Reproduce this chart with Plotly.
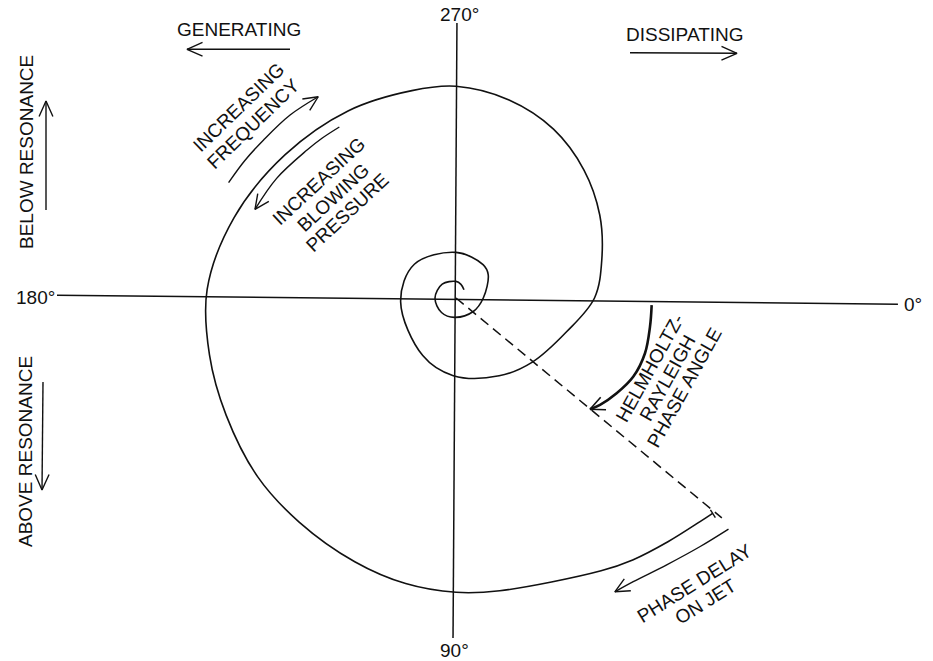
import numpy as np
import plotly.graph_objects as go

# ---------------- data (screen angles: 0° right, 90° down, clockwise) ----------------
CENTER_X, CENTER_Y = 456.0, 298.0

# spiral: unwrapped screen angle (deg) and radius (px)
SPIRAL_ANGLE = [314, 290, 270, 225, 180, 135, 94, 38, 0, -36, -51, -90, -141, -184,
                -240, -268, -299, -320, -343, -360, -375, -390, -405, -420, -435,
                -450, -462, -480, -500, -520, -538, -553, -567, -582, -595, -609,
                -620, -630, -638.5, -658, -664, -671, -677.5, -680]
SPIRAL_RADIUS = [11.5, 14.5, 16.6, 19.5, 21, 20.5, 19.4, 21.9, 27.3, 39.8, 43, 45.6, 53.6, 55.5,
                 66.5, 77.7, 89, 99.7, 115.6, 138.5, 151, 166, 181, 195, 205,
                 211.7, 212, 216, 223, 236, 249, 253, 258, 267, 273.5, 282.5,
                 290, 294.3, 296, 309, 316, 323, 331, 335]

# reference axes (angle, radius of the two ends)
H_AXIS_ANGLE = [180.4, 0.8]
H_AXIS_R = [399, 442]
V_AXIS_ANGLE = [270.2, 90.5]
V_AXIS_R = [275, 340]

AXIS_LABELS = ["0°", "90°", "180°", "270°"]
AXIS_LABEL_ANGLE = [0.8, 90.3, 180.1, 270.8]
AXIS_LABEL_R = [457, 352, 421, 284]

# dashed phase line
DASH_ANGLE = [39.6, 39.6]
DASH_R = [0, 345]

# curved arrows (angle, radius)
FREQ_ARC_ANGLE = [206.9, 213.0, 219.4, 227.8, 235.6]
FREQ_ARC_R = [255, 252, 249, 247, 243.9]
BLOW_ARC_ANGLE = [235.7, 230.0, 224.7, 213.7, 203.8]
BLOW_ARC_R = [207, 208.5, 210, 215.6, 219.7]
HR_ARC_ANGLE = [2.1, 8.4, 16.3, 23.9, 30.7, 36.6, 39.7]
HR_ARC_R = [195.8, 196.1, 196.9, 194, 186.8, 179.4, 174.2]
JET_ARC_ANGLE = [40.3, 45.5, 51.7, 58, 61.6]
JET_ARC_R = [357.3, 348.4, 340, 334.5, 334]

# straight arrows (start -> tip)
GEN_ARROW_X = [290, 187]
GEN_ARROW_Y = [49.3, 49.3]
DIS_ARROW_X = [630, 737]
DIS_ARROW_Y = [52.7, 53.3]
BELOW_ARROW_X = [46, 46]
BELOW_ARROW_Y = [210, 101]
ABOVE_ARROW_X = [43, 42]
ABOVE_ARROW_Y = [382, 490]

FONT = "Liberation Sans, Arial, Helvetica, sans-serif"
INK = "#111111"
FS = 19


def polar_xy(angles, radii):
    a = np.radians(np.asarray(angles, dtype=float))
    r = np.asarray(radii, dtype=float)
    return CENTER_X + r * np.cos(a), CENTER_Y + r * np.sin(a)


fig = go.Figure()


def add_line(x, y, width=1.5, dash=None, spline=False):
    fig.add_trace(go.Scatter(
        x=list(x), y=list(y), mode="lines", hoverinfo="skip",
        line=dict(color=INK, width=width, dash=dash,
                  shape="spline" if spline else "linear", smoothing=1.0),
    ))


def add_head(x, y, length=16, half=25, width=1.4):
    x = np.asarray(x, dtype=float)
    y = np.asarray(y, dtype=float)
    dx, dy = x[-1] - x[-2], y[-1] - y[-2]
    n = np.hypot(dx, dy)
    ux, uy = dx / n, dy / n
    pts_x, pts_y = [], []
    for s in (1, -1):
        t = np.radians(half * s)
        bx = -(ux * np.cos(t) - uy * np.sin(t))
        by = -(ux * np.sin(t) + uy * np.cos(t))
        pts_x.append(x[-1] + length * bx)
        pts_y.append(y[-1] + length * by)
    add_line([pts_x[0], x[-1], pts_x[1]], [pts_y[0], y[-1], pts_y[1]], width=width)


# axes
hx, hy = polar_xy(H_AXIS_ANGLE, H_AXIS_R)
add_line(hx, hy, width=1.5)
vx, vy = polar_xy(V_AXIS_ANGLE, V_AXIS_R)
add_line(vx, vy, width=1.5)

# spiral
sx, sy = polar_xy(SPIRAL_ANGLE, SPIRAL_RADIUS)
add_line(sx, sy, width=1.6, spline=True)
# small tick at the spiral end
ex, ey = sx[-1], sy[-1]
tx, ty = sx[-1] - sx[-2], sy[-1] - sy[-2]
tn = np.hypot(tx, ty)
px, py = -ty / tn, tx / tn
add_line([ex - 4 * px, ex + 5 * px], [ey - 4 * py, ey + 5 * py], width=1.4)

# dashed line
dx_, dy_ = polar_xy(DASH_ANGLE, DASH_R)
add_line(dx_, dy_, width=1.5, dash="10px,6px")

# curved arrows
for ang, rad, w in [(FREQ_ARC_ANGLE, FREQ_ARC_R, 1.4), (BLOW_ARC_ANGLE, BLOW_ARC_R, 1.4),
                    (HR_ARC_ANGLE, HR_ARC_R, 2.6), (JET_ARC_ANGLE, JET_ARC_R, 1.4)]:
    ax_, ay_ = polar_xy(ang, rad)
    add_line(ax_, ay_, width=w, spline=True)
    add_head(ax_, ay_, length=16, half=25, width=1.6 if w > 2 else 1.4)

# straight arrows
for ax_, ay_ in [(GEN_ARROW_X, GEN_ARROW_Y), (DIS_ARROW_X, DIS_ARROW_Y),
                 (BELOW_ARROW_X, BELOW_ARROW_Y), (ABOVE_ARROW_X, ABOVE_ARROW_Y)]:
    add_line(ax_, ay_, width=1.4)
    add_head(ax_, ay_, length=17, half=24, width=1.4)

annotations = []


def text(t, x, y, angle=0, size=FS):
    annotations.append(dict(
        x=x, y=y, xref="x", yref="y", text=t, showarrow=False, textangle=angle,
        xanchor="center", yanchor="middle", font=dict(family=FONT, size=size, color=INK),
    ))


def block(lines, cx, cy, angle, spacing, size=FS):
    a = np.radians(angle)
    perp_x, perp_y = -np.sin(a), np.cos(a)
    k0 = (len(lines) - 1) / 2.0
    for i, t in enumerate(lines):
        k = i - k0
        text(t, cx + k * spacing * perp_x, cy + k * spacing * perp_y, angle, size)


# axis labels
lx, ly = polar_xy(AXIS_LABEL_ANGLE, AXIS_LABEL_R)
for t, x, y in zip(AXIS_LABELS, lx, ly):
    text(t, x, y)

text("GENERATING", 238.5, 29)
text("DISSIPATING", 685, 34)
text("BELOW RESONANCE", 26, 152, -90)
text("ABOVE RESONANCE", 25, 452, -90)
block(["INCREASING", "FREQUENCY"], 246, 115.5, -44, 21)
block(["INCREASING", "BLOWING", "PRESSURE"], 333, 197, -43, 21)
block(["HELMHOLTZ-", "RAYLEIGH", "PHASE ANGLE"], 667, 378, -61, 20)
block(["PHASE DELAY", "ON JET"], 700, 592.6, -32, 22)

fig.update_layout(
    width=933, height=661,
    margin=dict(l=0, r=0, t=0, b=0, autoexpand=False),
    paper_bgcolor="white", plot_bgcolor="white",
    showlegend=False,
    xaxis=dict(range=[0, 933], visible=False, fixedrange=True),
    yaxis=dict(range=[661, 0], visible=False, fixedrange=True),
    annotations=annotations,
)

fig.write_html(
    "out.html",
    config={"displayModeBar": False},
    post_script="document.body.style.margin='0px';document.body.style.overflow='hidden';",
)
